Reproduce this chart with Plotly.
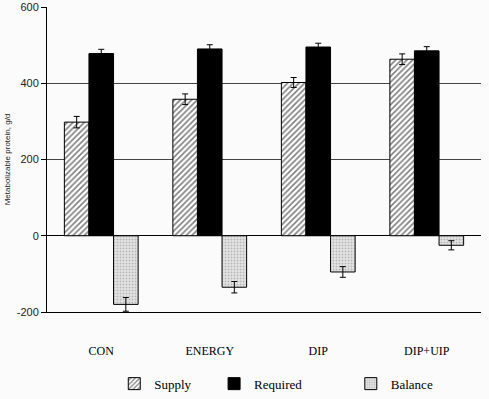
import plotly.graph_objects as go

categories = ["CON", "ENERGY", "DIP", "DIP+UIP"]
supply = [298, 358, 402, 463]
supply_err = [15, 14, 13, 14]
required = [478, 490, 495, 485]
required_err = [11, 11, 10, 11]
balance = [-180, -135, -95, -25]
balance_err = [18, 15, 14, 12]
y_ticks = [-200, 0, 200, 400, 600]
y_tick_text = ["-200", "0", "200", "400", "600"]

fig = go.Figure()
fig.add_trace(go.Bar(
    x=categories, y=supply, name="Supply", legend="legend",
    marker=dict(color="white", line=dict(color="black", width=1),
                pattern=dict(shape="/", fgcolor="black", bgcolor="white", size=4, solidity=0.4)),
    error_y=dict(type="data", array=supply_err, color="black", thickness=1, width=3),
))
fig.add_trace(go.Bar(
    x=categories, y=required, name="Required", legend="legend2",
    marker=dict(color="black", line=dict(color="black", width=1)),
    error_y=dict(type="data", array=required_err, color="black", thickness=1, width=3),
))
fig.add_trace(go.Bar(
    x=categories, y=balance, name="Balance", legend="legend3",
    marker=dict(color="#dcdcdc", line=dict(color="black", width=1),
                pattern=dict(shape=".", fgcolor="#888888", bgcolor="#e4e4e4", size=3, solidity=0.3)),
    error_y=dict(type="data", array=balance_err, color="black", thickness=1, width=3),
))

leg_common = dict(orientation="h", yanchor="middle", xanchor="left",
                  font=dict(family="Liberation Serif", size=13, color="black"),
                  bgcolor="rgba(0,0,0,0)", itemwidth=30)
fig.update_layout(
    width=489, height=399,
    margin=dict(l=47, r=8, t=7, b=87, autoexpand=False),
    paper_bgcolor="#fbfbfb", plot_bgcolor="#fbfbfb",
    barmode="group", bargap=0.32, bargroupgap=0,
    showlegend=True,
    legend=dict(x=0.155, y=-0.235, xref="paper", **leg_common),
    legend2=dict(x=0.385, y=-0.235, xref="paper", **leg_common),
    legend3=dict(x=0.70, y=-0.235, xref="paper", **leg_common),
    xaxis=dict(showline=True, linecolor="black", linewidth=1, ticks="", showgrid=False,
               automargin=False,
               tickfont=dict(family="Liberation Serif", size=12, color="black"),
               ticklabelstandoff=28),
    yaxis=dict(range=[-200, 600], tickvals=y_ticks, ticktext=y_tick_text,
               automargin=False,
               showgrid=True, gridcolor="#444444", gridwidth=1,
               zeroline=True, zerolinecolor="black", zerolinewidth=1,
               showline=True, linecolor="black", linewidth=1,
               ticks="outside", ticklen=5, tickcolor="black",
               tickfont=dict(family="Liberation Sans", size=11, color="#222"),
               title=dict(text="Metabolizable protein, g/d",
                          font=dict(family="Liberation Sans", size=8, color="#222"), standoff=4)),
)
fig.write_html("out.html", config={"displayModeBar": False},
               post_script="document.body.style.margin='0';document.body.style.overflow='hidden';")
